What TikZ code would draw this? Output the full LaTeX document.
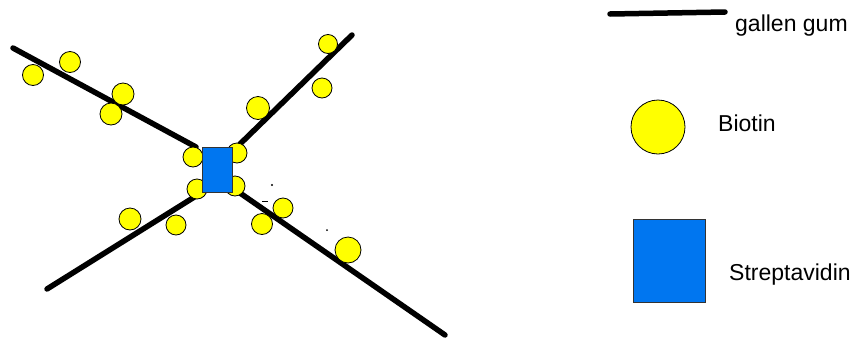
\documentclass[tikz,border=0pt]{standalone}
\usepackage{fontspec}
\setmainfont{Liberation Sans}
\definecolor{biotinyellow}{RGB}{255,255,0}
\definecolor{strepblue}{RGB}{0,118,240}

\begin{document}
\begin{tikzpicture}
		[
			x=1pt, y=-1pt,
			gum/.style={line width=5.5pt, line cap=round, black},
			biotin/.style={draw=black, line width=0.8pt, fill=biotinyellow},
			strep/.style={draw=black!80, line width=0.8pt, fill=strepblue, rectangle, inner sep=0pt},
			keytext/.style={anchor=base west, inner sep=0pt, font=\fontsize{23pt}{27pt}\selectfont}
		]
		\useasboundingbox (0,0) rectangle (862,338);

		% gallen gum chains
		\coordinate (ulout) at (13,48);
		\coordinate (ulin) at (196,147);
		\coordinate (urout) at (352,35);
		\coordinate (urin) at (240,144);
		\coordinate (llout) at (47,289);
		\coordinate (llin) at (196,196);
		\coordinate (lrout) at (445,335);
		\coordinate (lrin) at (240,193);
		\draw[gum] (ulout) -- (ulin);
		\draw[gum] (urout) -- (urin);
		\draw[gum] (llout) -- (llin);
		\draw[gum] (lrout) -- (lrin);

		% biotin on the chains
		\foreach \x/\y/\r in {33/75/10.5, 70/62/10.5, 123/94/11, 111/114/11,
			328/44/9.5, 322/88/10, 258/108/11.5,
			193/157/10, 237/153/10, 197/189/10, 235/186/10,
			130/219/11, 176/225/10, 283/208/10, 262/224/10.5, 348/250/13}
			\draw[biotin] (\x,\y) circle (\r pt);

		% streptavidin core
		\node[strep, minimum width=30pt, minimum height=45pt] (core) at (217,169.5) {};

		% stray marks
		\fill (272,185) circle (1.2pt);
		\draw[line width=1pt] (262,201) -- (268,201);
		\fill (327,230) circle (1pt);

		% legend
		\coordinate (gumstart) at (610,14);
		\coordinate (gumend) at (725,12);
		\draw[gum] (gumstart) -- (gumend);
		\node[keytext] (gumlabel) at (735,31) {gallen gum};

		\node[biotin, circle, minimum size=54pt, inner sep=0pt] (biotinkey) at (658,127) {};
		\node[keytext] (biotinlabel) at (718,131) {Biotin};

		\node[strep, minimum width=72pt, minimum height=83pt] (strepkey) at (669,260.5) {};
		\node[keytext] (streplabel) at (729,280) {Streptavidin};
	\end{tikzpicture}
\end{document}
